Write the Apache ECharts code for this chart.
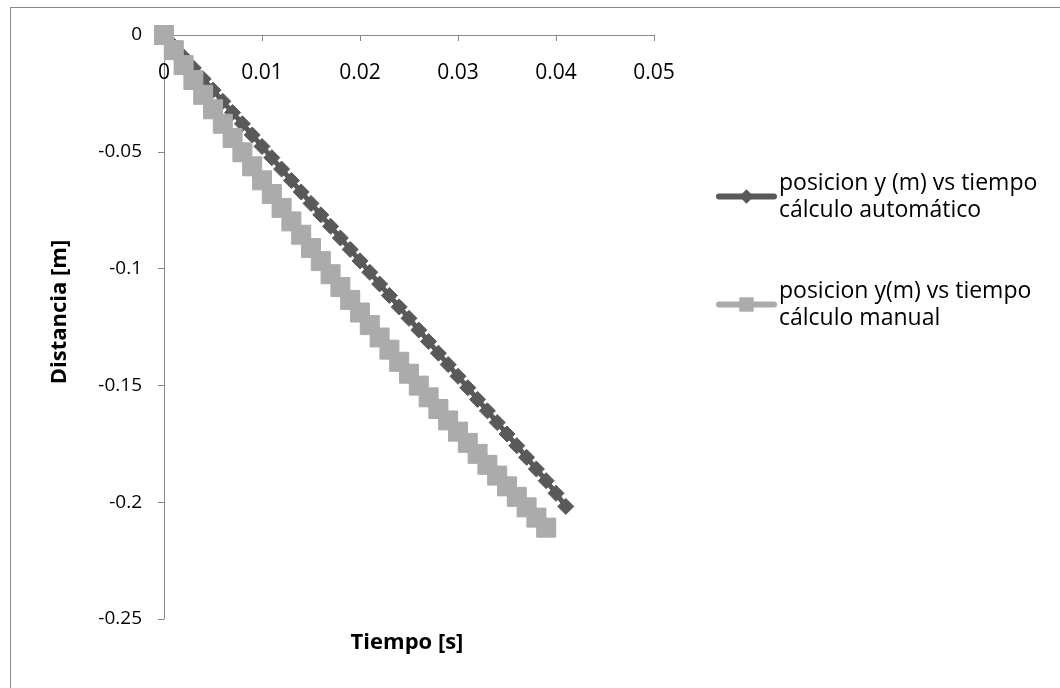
<!DOCTYPE html>
<html>
<head>
<meta charset="utf-8">
<script src="https://cdn.jsdelivr.net/npm/echarts@6/dist/echarts.min.js"></script>
<style>
html,body{margin:0;padding:0;background:#fff;overflow:hidden;}
#frame{position:absolute;left:10px;top:7px;width:1100px;height:800px;border:1px solid #898989;box-sizing:border-box;}
#chart{position:absolute;left:0;top:0;width:1060px;height:688px;}
</style>
</head>
<body>
<div id="frame"></div>
<div id="chart"></div>
<script>
// Series 1: posicion y (m) vs tiempo - cálculo automático
var autoT = [0, 0.001, 0.002, 0.003, 0.004, 0.005, 0.006, 0.007, 0.008, 0.009, 0.010, 0.011, 0.012, 0.013, 0.014, 0.015, 0.016, 0.017, 0.018, 0.019, 0.020, 0.021, 0.022, 0.023, 0.024, 0.025, 0.026, 0.027, 0.028, 0.029, 0.030, 0.031, 0.032, 0.033, 0.034, 0.035, 0.036, 0.037, 0.038, 0.039, 0.040, 0.041];
var autoY = [0, -0.0047, -0.0094, -0.0141, -0.0188, -0.0236, -0.0284, -0.0332, -0.0380, -0.0428, -0.0477, -0.0525, -0.0574, -0.0623, -0.0672, -0.0721, -0.0770, -0.0819, -0.0869, -0.0918, -0.0967, -0.1016, -0.1066, -0.1115, -0.1164, -0.1213, -0.1263, -0.1312, -0.1362, -0.1411, -0.1461, -0.1510, -0.1560, -0.1609, -0.1659, -0.1708, -0.1758, -0.1808, -0.1858, -0.1908, -0.1962, -0.2018];
// Series 2: posicion y(m) vs tiempo - cálculo manual
var manualT = [0, 0.001, 0.002, 0.003, 0.004, 0.005, 0.006, 0.007, 0.008, 0.009, 0.010, 0.011, 0.012, 0.013, 0.014, 0.015, 0.016, 0.017, 0.018, 0.019, 0.020, 0.021, 0.022, 0.023, 0.024, 0.025, 0.026, 0.027, 0.028, 0.029, 0.030, 0.031, 0.032, 0.033, 0.034, 0.035, 0.036, 0.037, 0.038, 0.039];
var manualY = [0, -0.0065, -0.0129, -0.0193, -0.0256, -0.0318, -0.0380, -0.0441, -0.0502, -0.0562, -0.0622, -0.0681, -0.0740, -0.0798, -0.0855, -0.0912, -0.0968, -0.1024, -0.1079, -0.1134, -0.1188, -0.1242, -0.1295, -0.1347, -0.1399, -0.1450, -0.1501, -0.1551, -0.1601, -0.1650, -0.1698, -0.1746, -0.1793, -0.1840, -0.1886, -0.1932, -0.1977, -0.2022, -0.2066, -0.2109];

var seriesNames = ['posicion y (m) vs tiempo cálculo automático', 'posicion y(m) vs tiempo cálculo manual'];
var legendLines = {};
legendLines[seriesNames[0]] = 'posicion y (m) vs tiempo\ncálculo automático';
legendLines[seriesNames[1]] = 'posicion y(m) vs tiempo\ncálculo manual';
var xTitle = 'Tiempo [s]';
var yTitle = 'Distancia [m]';

function pairs(a, b) { return a.map(function (v, i) { return [v, b[i]]; }); }

var FONT = 'Open Sans';
var chart = echarts.init(document.getElementById('chart'));
chart.setOption({
  animation: false,
  backgroundColor: 'transparent',
  grid: { left: 164, top: 35, width: 490, height: 584, containLabel: false },
  xAxis: {
    type: 'value', min: 0, max: 0.05, interval: 0.01, position: 'top',
    axisLine: { show: true, lineStyle: { color: '#868686', width: 1 } },
    axisTick: { show: true, inside: true, length: 6, lineStyle: { color: '#868686' } },
    axisLabel: { inside: true, margin: 28, color: '#000', fontFamily: FONT, fontSize: 21 },
    splitLine: { show: false }
  },
  yAxis: {
    type: 'value', min: -0.25, max: 0, interval: 0.05,
    axisLine: { show: true, lineStyle: { color: '#868686', width: 1 } },
    axisTick: { show: true, length: 6, lineStyle: { color: '#868686' } },
    axisLabel: { margin: 22, color: '#000', fontFamily: FONT, fontSize: 19 },
    splitLine: { show: false }
  },
  legend: {
    orient: 'vertical', left: 711, top: 151, itemWidth: 55, itemHeight: 18, itemGap: 27,
    formatter: function (n) { return legendLines[n]; },
    lineStyle: { width: 6, cap: 'round' },
    textStyle: { color: '#000', fontFamily: FONT, fontSize: 23, lineHeight: 27, padding: [27, 0, 0, 0] },
    data: seriesNames
  },
  graphic: [
    { type: 'text', x: 407, y: 643, style: { text: xTitle, align: 'center', verticalAlign: 'middle', font: 'bold 22px "Open Sans"', fill: '#000' } },
    { type: 'text', rotation: Math.PI / 2, x: 60, y: 312, style: { text: yTitle, align: 'center', verticalAlign: 'middle', font: 'bold 22px "Open Sans"', fill: '#000' } }
  ],
  series: [
    {
      name: seriesNames[0], type: 'line', data: pairs(autoT, autoY),
      symbol: 'diamond', symbolSize: 16, showAllSymbol: true,
      lineStyle: { color: '#595959', width: 5 },
      itemStyle: { color: '#595959', borderColor: '#595959' }
    },
    {
      name: seriesNames[1], type: 'line', data: pairs(manualT, manualY),
      symbol: 'rect', symbolSize: 19, showAllSymbol: true,
      lineStyle: { color: '#ababab', width: 5 },
      itemStyle: { color: '#ababab', borderColor: '#ababab' }
    }
  ]
});
</script>
</body>
</html>
